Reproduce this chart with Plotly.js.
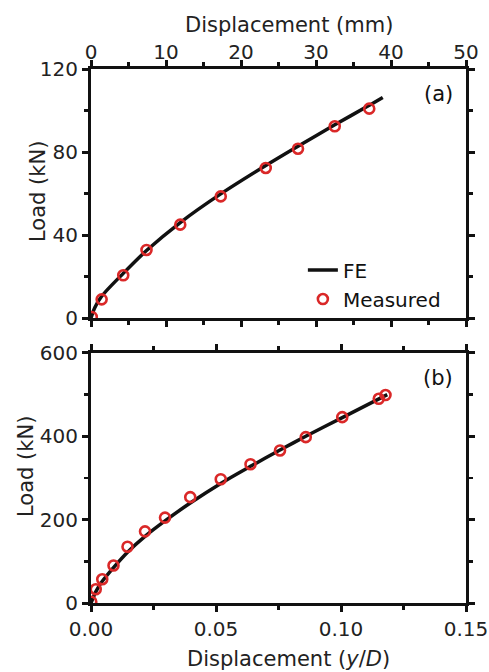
<!DOCTYPE html>
<html>
<head>
<meta charset="utf-8">
<script src="https://cdn.plot.ly/plotly-3.0.1.min.js"></script>
<style>html,body{margin:0;padding:0;background:#fff;}#chart{width:489px;height:672px;}</style>
</head>
<body>
<div id="chart"></div>
<script>
// Panel (a): displacement in mm, load in kN
const feA_x = [0, 0.5, 1.42, 4.3, 7.4, 11.9, 17.3, 23.3, 27.6, 32.5, 37.1, 38.9];
const feA_y = [0, 5, 10.5, 21.5, 32.5, 46, 59.8, 73.5, 82.8, 93.1, 102.5, 106.3];
const measA_x = [0.1, 1.42, 4.3, 7.4, 11.9, 17.3, 23.3, 27.6, 32.5, 37.1];
const measA_y = [0.5, 9.0, 20.6, 32.8, 45.0, 58.6, 72.3, 81.6, 92.4, 100.9];

// Panel (b): displacement y/D, load in kN
const feB_x = [0, 0.002, 0.0045, 0.009, 0.0146, 0.0216, 0.0296, 0.0397, 0.0519, 0.0638, 0.0756, 0.0859, 0.1005, 0.1185];
const feB_y = [0, 28, 52, 85, 122, 160, 197, 240, 287, 328, 367, 400, 445, 500];
const measB_x = [0.0001, 0.0019, 0.0045, 0.009, 0.0146, 0.0216, 0.0296, 0.0397, 0.0519, 0.0638, 0.0756, 0.0859, 0.1005, 0.1151, 0.1178];
const measB_y = [3, 33, 57, 90, 135, 172, 205, 254, 297, 333, 366, 398, 446, 490, 499];

const xTicksA = [0, 10, 20, 30, 40, 50];
const yTicksA = [0, 40, 80, 120];
const xTicksB = [0, 0.05, 0.10, 0.15];
const xTickTextB = ['0.00', '0.05', '0.10', '0.15'];
const yTicksB = [0, 200, 400, 600];

const titleTopX = 'Displacement (mm)';
const titleBottomX = 'Displacement (<i>y</i>/<i>D</i>)';
const titleY = 'Load (kN)';

const FONT = 'DejaVu Sans, Liberation Sans, Arial, sans-serif';
const red = 'rgb(218,40,40)';
const lineCol = '#111';

const traces = [
  {x: feA_x, y: feA_y, xaxis: 'x', yaxis: 'y', mode: 'lines', name: 'FE',
   line: {color: lineCol, width: 3.5, shape: 'spline', smoothing: 0.8}},
  {x: measA_x, y: measA_y, xaxis: 'x', yaxis: 'y', mode: 'markers', name: 'Measured',
   marker: {symbol: 'circle-open', size: 10, color: red, line: {width: 2.6, color: red}}},
  {x: feB_x, y: feB_y, xaxis: 'x2', yaxis: 'y2', mode: 'lines', name: 'FE', showlegend: false,
   line: {color: lineCol, width: 3.5, shape: 'spline', smoothing: 0.8}},
  {x: measB_x, y: measB_y, xaxis: 'x2', yaxis: 'y2', mode: 'markers', name: 'Measured', showlegend: false,
   marker: {symbol: 'circle-open', size: 10, color: red, line: {width: 2.6, color: red}}}
];

function axisBase() {
  return {
    showline: true, linecolor: '#111', linewidth: 3, mirror: 'ticks',
    ticks: 'outside', ticklen: 6, tickwidth: 3, tickcolor: '#111',
    showgrid: false, zeroline: false,
    tickfont: {family: FONT, size: 20, color: '#222'},
    minor: {ticks: 'outside', ticklen: 4, tickwidth: 2.5, tickcolor: '#111', showgrid: false}
  };
}

const titleFont = {family: FONT, size: 21, color: '#222'};

const layout = {
  width: 489, height: 672,
  margin: {l: 91, r: 23, t: 69, b: 69},
  paper_bgcolor: '#fff', plot_bgcolor: '#fff',
  font: {family: FONT, color: '#222'},
  showlegend: true,
  legend: {x: 0.565, y: 0.66, xanchor: 'left', yanchor: 'top',
           bgcolor: 'rgba(0,0,0,0)', font: {family: FONT, size: 20, color: '#111'},
           tracegroupgap: 0, itemwidth: 30},
  xaxis: Object.assign(axisBase(), {
    domain: [0, 1], anchor: 'y', side: 'top', range: [0, 50], ticklabelstandoff: -7,
    tickvals: xTicksA, minor: Object.assign(axisBase().minor, {dtick: 5, tick0: 0})
  }),
  yaxis: Object.assign(axisBase(), {
    domain: [0.5337, 1], anchor: 'x', range: [0, 120],
    tickvals: yTicksA, minor: Object.assign(axisBase().minor, {dtick: 20, tick0: 0})
  }),
  xaxis2: Object.assign(axisBase(), {
    domain: [0, 1], anchor: 'y2', side: 'bottom', range: [0, 0.15],
    tickvals: xTicksB, ticktext: xTickTextB, minor: Object.assign(axisBase().minor, {dtick: 0.025, tick0: 0})
  }),
  yaxis2: Object.assign(axisBase(), {
    domain: [0, 0.4682], anchor: 'x2', range: [0, 600],
    tickvals: yTicksB, minor: Object.assign(axisBase().minor, {dtick: 100, tick0: 0})
  }),
  annotations: [
    {text: titleTopX, xref: 'paper', yref: 'paper', x: 0.5, xshift: 10, y: 1.082, xanchor: 'center', yanchor: 'middle',
     showarrow: false, font: titleFont},
    {text: titleBottomX, xref: 'paper', yref: 'paper', x: 0.5, xshift: 10, y: -0.1049, xanchor: 'center', yanchor: 'middle',
     showarrow: false, font: titleFont},
    {text: titleY, xref: 'paper', yref: 'paper', x: 0, xshift: -53, y: 0.7697, xanchor: 'center', yanchor: 'middle',
     textangle: -90, showarrow: false, font: titleFont},
    {text: titleY, xref: 'paper', yref: 'paper', x: 0, xshift: -65, y: 0.2547, xanchor: 'center', yanchor: 'middle',
     textangle: -90, showarrow: false, font: titleFont},
    {text: '(a)', xref: 'x domain', yref: 'y domain', x: 0.97, y: 0.9, xanchor: 'right', yanchor: 'middle',
     showarrow: false, font: {family: FONT, size: 21, color: '#111'}},
    {text: '(b)', xref: 'x2 domain', yref: 'y2 domain', x: 0.97, y: 0.9, xanchor: 'right', yanchor: 'middle',
     showarrow: false, font: {family: FONT, size: 21, color: '#111'}}
  ]
};

Plotly.newPlot('chart', traces, layout, {displayModeBar: false, staticPlot: true});
</script>
</body>
</html>
